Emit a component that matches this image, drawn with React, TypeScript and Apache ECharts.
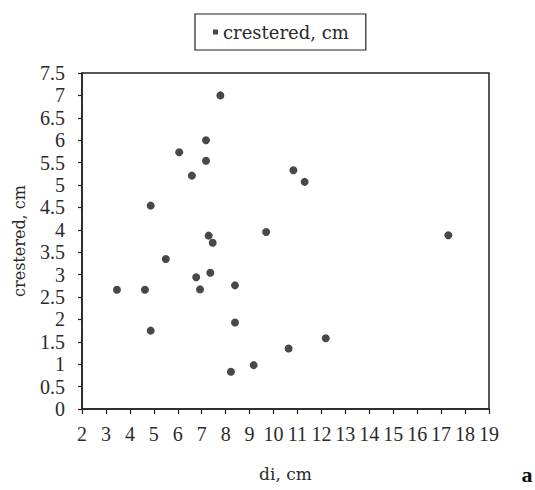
import React, { useEffect, useRef } from "react";
import * as echarts from "echarts";

const seriesName = "crestered, cm";
const xAxisName = "di, cm";
const yAxisName = "crestered, cm";
const panelLabel = "a";

const diValues = [3.46, 4.63, 4.87, 4.87, 5.5, 6.06, 6.59, 6.77, 6.93, 7.18, 7.18, 7.29, 7.46, 7.36, 7.78, 8.39, 8.39, 8.22, 9.17, 9.69, 10.63, 12.18, 10.83, 11.3, 17.3];
const cresteredValues = [2.66, 2.66, 1.75, 4.54, 3.35, 5.73, 5.21, 2.94, 2.67, 6.0, 5.54, 3.87, 3.71, 3.04, 7.0, 2.76, 1.93, 0.83, 0.98, 3.95, 1.35, 1.58, 5.33, 5.07, 3.88];

const xMin = 2;
const xMax = 19;
const xStep = 1;
const yMin = 0;
const yMax = 7.5;
const yStep = 0.5;

const textColor = "#2a2a2a";
const lineColor = "#222222";

export default function App() {
  const ref = useRef<HTMLDivElement>(null);

  useEffect(() => {
    if (!ref.current) return;
    const chart = echarts.init(ref.current, null, { renderer: "svg" });
    const points = diValues.map((d, i) => [d, cresteredValues[i]]);
    chart.setOption({
      animation: false,
      backgroundColor: "#ffffff",
      grid: {
        left: 82,
        top: 73,
        right: 46,
        bottom: 81,
        show: true,
        borderColor: lineColor,
        borderWidth: 1.5,
        containLabel: false,
      },
      legend: {
        left: 195,
        top: 14,
        orient: "horizontal",
        data: [{ name: seriesName, icon: "rect" }],
        itemWidth: 5,
        itemHeight: 5,
        padding: [9, 17, 9, 18],
        borderColor: lineColor,
        borderWidth: 1.2,
        textStyle: {
          fontFamily: "DejaVu Serif",
          fontSize: 18,
          color: textColor,
        },
      },
      xAxis: {
        type: "value",
        min: xMin,
        max: xMax,
        interval: xStep,
        name: xAxisName,
        nameLocation: "middle",
        nameGap: 56,
        nameTextStyle: { fontFamily: "DejaVu Serif", fontSize: 17, color: textColor },
        splitLine: { show: false },
        axisLine: { show: true, lineStyle: { color: lineColor, width: 1.5 } },
        axisTick: { show: true, inside: false, length: 5, lineStyle: { color: lineColor, width: 1.2 } },
        axisLabel: {
          margin: 15,
          fontFamily: "Liberation Serif",
          fontSize: 20,
          color: textColor,
          showMinLabel: true,
          showMaxLabel: true,
        },
      },
      yAxis: {
        type: "value",
        min: yMin,
        max: yMax,
        interval: yStep,
        name: yAxisName,
        nameLocation: "middle",
        nameRotate: 90,
        nameGap: 55,
        nameTextStyle: { fontFamily: "DejaVu Serif", fontSize: 16, color: textColor },
        splitLine: { show: false },
        axisLine: { show: true, lineStyle: { color: lineColor, width: 1.5 } },
        axisTick: { show: true, inside: false, length: 4, lineStyle: { color: lineColor, width: 1.2 } },
        axisLabel: {
          margin: 17,
          fontFamily: "Liberation Serif",
          fontSize: 20,
          color: textColor,
          showMinLabel: true,
          showMaxLabel: true,
        },
      },
      series: [
        {
          name: seriesName,
          type: "scatter",
          data: points,
          symbol: "circle",
          symbolSize: 8,
          itemStyle: { color: "#1a1a1a" },
        },
      ],
      graphic: [
        {
          type: "text",
          x: 527,
          y: 474,
          style: {
            text: panelLabel,
            fontFamily: "Liberation Serif",
            fontWeight: "bold",
            fontSize: 22,
            fill: "#111111",
            align: "center",
            verticalAlign: "middle",
          },
        },
      ],
    });
    return () => chart.dispose();
  }, []);

  return (
    <div
      ref={ref}
      style={{ position: "fixed", left: 0, top: 0, width: 535, height: 490, background: "#ffffff" }}
    />
  );
}
